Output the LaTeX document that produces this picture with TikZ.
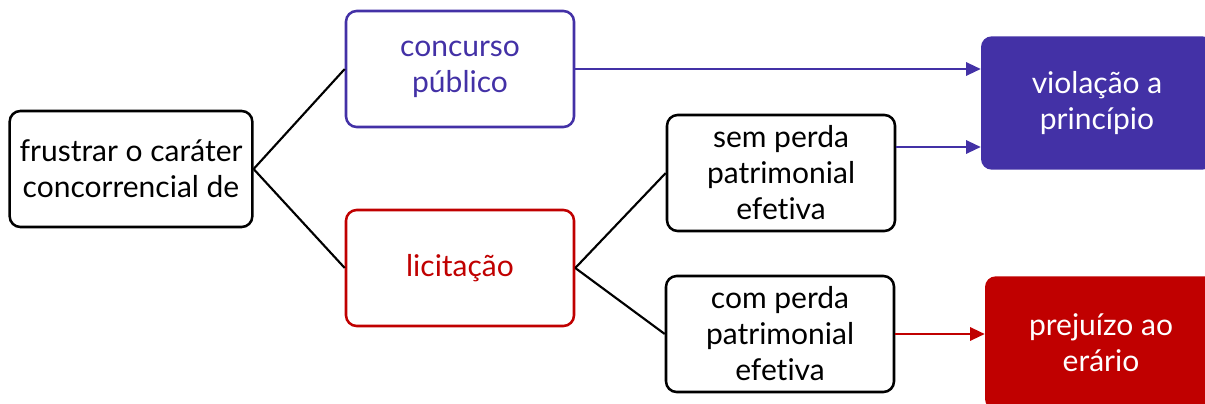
\documentclass[tikz,border=0pt]{standalone}
\usepackage{fontspec}
\setmainfont{Lato}[Ligatures=NoCommon]
\usetikzlibrary{arrows.meta}
\definecolor{roxo}{HTML}{4331A6}
\definecolor{vermelho}{HTML}{C00000}
\tikzset{
  caixa/.style={draw,line width=1.9pt,rounded corners=8pt,align=center,
    minimum width=171pt,minimum height=87pt,inner sep=2pt,font=\fontsize{22.5}{27}\selectfont},
  cheia/.style={rounded corners=8pt,align=center,text=white,
    minimum width=174pt,minimum height=100pt,font=\fontsize{22.5}{27}\selectfont},
  liga/.style={line width=1.6pt},
  seta/.style={line width=1.6pt,-{Triangle[length=11pt,width=10pt]}}
}
\begin{document}
\begin{tikzpicture}[x=0.75pt,y=-0.75pt]
        \useasboundingbox (0,0) rectangle (1205,403);
        \node[caixa,minimum width=182pt] (raiz) at (131,169) {frustrar o caráter\\concorrencial de};
        \node[caixa,draw=roxo,text=roxo] (concurso) at (460,69) {concurso\\público};
        \node[caixa,draw=vermelho,text=vermelho] (licitacao) at (460,268) {licitação};
        \node[caixa] (sem) at (781,173) {sem perda\\patrimonial\\efetiva};
        \node[caixa] (com) at (780,334) {com perda\\patrimonial\\efetiva};
        \node[cheia,fill=roxo] (violacao) at (1097,103) {violação a\\princípio};
        \node[cheia,fill=vermelho] (prejuizo) at (1101,343) {prejuízo ao\\erário};
        \draw[liga] (raiz.east) -- (concurso.west);
        \draw[liga] (raiz.east) -- (licitacao.west);
        \draw[liga] (licitacao.east) -- (sem.west);
        \draw[liga] (licitacao.east) -- (com.west);
        \coordinate (s1) at ([yshift=19.5pt]sem.east);
        \draw[seta,roxo] (concurso.east) -- (concurso.east -| violacao.west);
        \draw[seta,roxo] (s1) -- (s1 -| violacao.west);
        \draw[seta,vermelho] (com.east) -- (com.east -| prejuizo.west);
    \end{tikzpicture}
\end{document}
